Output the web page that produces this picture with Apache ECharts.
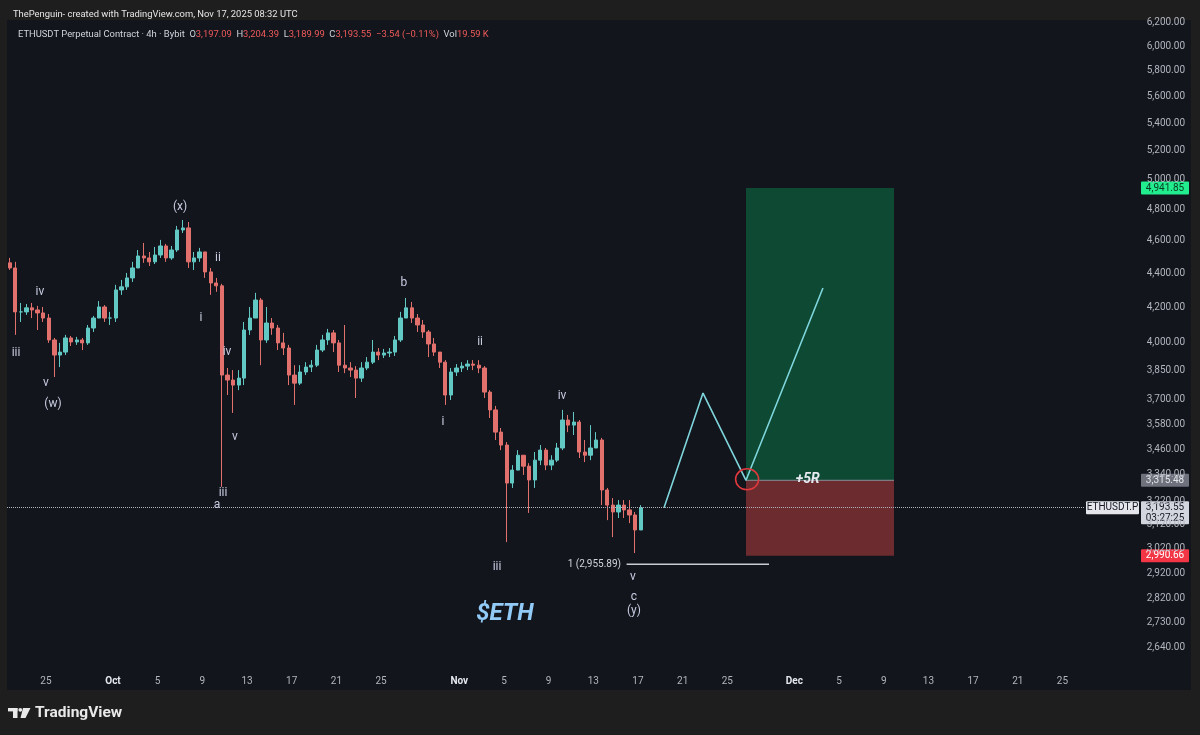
<!DOCTYPE html>
<html>
<head>
<meta charset="utf-8">
<title>ETHUSDT Perpetual Contract 4h</title>
<script src="https://cdn.jsdelivr.net/npm/echarts@6/dist/echarts.min.js"></script>
<style>
  html, body { margin: 0; padding: 0; background: #1e1e1e; }
  #chart { width: 1200px; height: 735px; }
</style>
</head>
<body>
<div id="chart"></div>
<script>
// candles, one per 12h, from Sep 21 12:00 (day 0 = Oct 1)
const firstDay = -9.5
const stepDay = 0.5
const firstOpen = 4462
const closes = [
  4431, 4173, 4173, 4196, 4184, 4167, 4138, 4016, 3934, 3950,
  4027, 4005, 4016, 4000, 4082, 4138, 4201, 4138, 4138, 4300,
  4318, 4371, 4431, 4504, 4492, 4468, 4510, 4566, 4492, 4541,
  4667, 4680, 4468, 4492, 4529, 4407, 4341, 4324, 3828, 3802,
  3776, 3812, 4071, 4138, 4241, 4016, 4110, 4082, 4000, 3972,
  3828, 3786, 3844, 3870, 3880, 3961, 4016, 4055, 4000, 3880,
  3865, 3854, 3812, 3865, 3896, 3950, 3934, 3945, 3950, 4016,
  4138, 4196, 4138, 4099, 4060, 3994, 3950, 3896, 3725, 3844,
  3865, 3875, 3886, 3880, 3865, 3740, 3650, 3541, 3479, 3303,
  3362, 3431, 3380, 3317, 3408, 3455, 3385, 3408, 3465, 3600,
  3575, 3590, 3446, 3431, 3465, 3503, 3272, 3205, 3175, 3205,
  3184, 3162, 3098, 3193.55
]
const highs = [
  4492, 4468, 4224, 4218, 4224, 4207, 4201, 4161, 4027, 4000,
  4044, 4038, 4033, 4027, 4099, 4150, 4235, 4212, 4173, 4330,
  4359, 4401, 4468, 4541, 4585, 4529, 4560, 4604, 4579, 4566,
  4693, 4731, 4718, 4529, 4554, 4529, 4431, 4371, 4336, 3865,
  3854, 3854, 4116, 4201, 4283, 4253, 4201, 4138, 4099, 4055,
  3989, 3880, 3880, 3896, 3907, 3989, 4044, 4077, 4071, 4016,
  4099, 3896, 3875, 3896, 3923, 4016, 3972, 3967, 3972, 4038,
  4173, 4253, 4230, 4161, 4127, 4071, 4027, 3950, 3907, 3865,
  3886, 3896, 3907, 3907, 3907, 3875, 3750, 3670, 3561, 3493,
  3385, 3455, 3431, 3394, 3446, 3479, 3465, 3431, 3489, 3650,
  3625, 3640, 3600, 3503, 3575, 3541, 3513, 3281, 3236, 3227,
  3227, 3227, 3175, 3205
]
const lows = [
  4419, 4044, 4116, 4156, 4138, 4071, 4116, 4000, 3818, 3870,
  3934, 3983, 3989, 3961, 3989, 4060, 4138, 4116, 4099, 4116,
  4271, 4300, 4347, 4443, 4462, 4443, 4455, 4492, 4468, 4480,
  4529, 4648, 4431, 4419, 4468, 4371, 4271, 4289, 3286, 3725,
  3635, 3750, 3776, 4044, 4138, 3880, 4000, 4044, 3961, 3934,
  3776, 3675, 3776, 3828, 3844, 3870, 3950, 3989, 3950, 3844,
  3838, 3818, 3710, 3792, 3854, 3886, 3907, 3918, 3923, 3929,
  4005, 4138, 4110, 4060, 4027, 3923, 3929, 3865, 3675, 3700,
  3823, 3844, 3854, 3854, 3838, 3710, 3610, 3503, 3455, 3047,
  3281, 3362, 3340, 3171, 3281, 3385, 3362, 3362, 3399, 3455,
  3541, 3527, 3418, 3399, 3408, 3465, 3205, 3140, 3068, 3149,
  3149, 3127, 3002, 3098
]
const lastPrice = 3193.55

// axis ticks
const yTicks = [6200, 6000, 5800, 5600, 5400, 5200, 5000, 4800, 4600, 4400, 4200, 4000,
  3850, 3700, 3580, 3460, 3340, 3220, 3120, 3020, 2920, 2820, 2730, 2640]
const xTickDays = [-6, 0, 4, 8, 12, 16, 20, 24, 31, 35, 39, 43, 47, 51, 55, 61, 65, 69, 73, 77, 81, 85]
const xTickText = ['25', 'Oct', '5', '9', '13', '17', '21', '25', 'Nov', '5', '9', '13', '17', '21', '25',
  'Dec', '5', '9', '13', '17', '21', '25']

// elliott wave labels
const waveText = ['iii', 'iv', 'v', '(w)', '(x)', 'ii', 'i', 'iv', 'v', 'iii', 'a',
  'b', 'ii', 'i', 'iii', 'iv', 'v', 'c', '(y)']
const waveDay = [-8.68, -6.54, -6.0, -5.37, 6.0, 9.4, 7.88, 10.21, 10.92, 9.85, 9.31,
  26.05, 32.86, 29.54, 34.38, 40.2, 46.55, 46.64, 46.64]
const wavePrice = [3944, 4287, 3786, 3679, 4816, 4491, 4138, 3950, 3517, 3258, 3205,
  4341, 4004, 3590, 2945, 3720, 2905, 2827, 2773]

// projected path and long position
const projDays = [49.33, 52.82, 56.67, 63.56]
const projPrices = [3193.55, 3735, 3315.48, 4311]
const posStart = 56.67
const posEnd = 69.92
const entry = 3315.48
const target = 4941.85
const stop = 2990.66
const fibPrice = 2955.89
const fibStart = 45.98
const fibEnd = 58.73

const FONT = 'Roboto, sans-serif'
const UP = '#62c8c3'
const DOWN = '#e2716d'
const L = Math.log

const candles = closes.map((c, i) => {
  const o = i ? closes[i - 1] : firstOpen
  return [firstDay + stepDay * i + stepDay / 2, L(o), L(c), L(lows[i]), L(highs[i])]
})

const chart = echarts.init(document.getElementById('chart'))

chart.setOption({
  animation: false,
  backgroundColor: '#1e1e1e',
  title: [{
    text: 'ThePenguin- created with TradingView.com, Nov 17, 2025 08:32 UTC',
    left: 8, top: 5,
    textStyle: { color: '#e6e6e6', fontSize: 9.4, fontWeight: 'normal', fontFamily: FONT }
  }, {
    text: '{w|ETHUSDT Perpetual Contract · 4h · Bybit}  {w|O}{r|3,197.09}  {w|H}{r|3,204.39}  ' +
      '{w|L}{r|3,189.99}  {w|C}{r|3,193.55}  {r|−3.54 (−0.11%)}  {w|Vol}{r|19.59 K}',
    left: 13, top: 25,
    textStyle: {
      fontSize: 9.4, fontWeight: 'normal', fontFamily: FONT,
      rich: {
        w: { color: '#d1d4dc', fontSize: 9.4, fontFamily: FONT },
        r: { color: '#ef5a5a', fontSize: 9.4, fontFamily: FONT }
      }
    }
  }],
  grid: { left: 7, right: 116, top: 20, bottom: 67 },
  xAxis: {
    type: 'value',
    min: -9.49, max: 86.93,
    axisLine: { show: false },
    axisTick: { show: false },
    splitLine: { show: false },
    axisLabel: {
      customValues: xTickDays,
      margin: 8,
      formatter: v => {
        const t = xTickText[xTickDays.indexOf(v)] || ''
        return /[A-Z]/.test(t) ? '{m|' + t + '}' : t
      },
      color: '#b2b5be', fontSize: 10, fontFamily: FONT,
      rich: { m: { color: '#e6e8ee', fontWeight: 'bold', fontSize: 10, fontFamily: FONT } }
    }
  },
  yAxis: {
    type: 'value',
    position: 'right',
    min: L(2565.7), max: L(6217),
    axisLine: { show: false },
    axisTick: { show: false },
    splitLine: { show: false },
    axisLabel: {
      customValues: yTicks.map(L),
      align: 'right',
      margin: 101,
      color: '#b2b5be', fontSize: 10, fontFamily: FONT,
      formatter: v => Math.round(Math.exp(v)).toLocaleString('en-US', { minimumFractionDigits: 2 })
    }
  },
  series: [{
    // long position box
    type: 'line',
    z: 1,
    silent: true,
    symbol: 'none',
    data: [[posStart, L(entry)], [posEnd, L(entry)]],
    lineStyle: { color: '#8a8f98', width: 1 },
    markArea: {
      silent: true,
      data: [
        [{ xAxis: posStart, yAxis: L(entry), itemStyle: { color: '#0e4933', opacity: 1 } }, { xAxis: posEnd, yAxis: L(target) }],
        [{ xAxis: posStart, yAxis: L(stop), itemStyle: { color: '#6c2b2f', opacity: 1 } }, { xAxis: posEnd, yAxis: L(entry) }]
      ]
    }
  }, {
    type: 'candlestick',
    z: 2,
    data: candles,
    encode: { x: 0, y: [1, 2, 3, 4] },
    barWidth: 3.8,
    itemStyle: { color: UP, color0: DOWN, borderColor: UP, borderColor0: DOWN, borderWidth: 1 },
    markLine: {
      silent: true,
      symbol: 'none',
      label: { show: false },
      lineStyle: { type: 'dotted', color: '#aeb3bd', width: 1 },
      data: [{ yAxis: L(lastPrice) }]
    }
  }, {
    type: 'line',
    z: 3,
    silent: true,
    symbol: 'none',
    data: projDays.map((d, i) => [d, L(projPrices[i])]),
    lineStyle: { color: '#7fd5dc', width: 1.6 }
  }, {
    type: 'line',
    z: 3,
    silent: true,
    symbol: 'none',
    data: [[fibStart, L(fibPrice)], [fibEnd, L(fibPrice)]],
    lineStyle: { color: '#c9ccd3', width: 1.5 }
  }, {
    type: 'scatter',
    z: 5,
    silent: true,
    symbolSize: 1,
    itemStyle: { color: 'rgba(0,0,0,0)', opacity: 1 },
    label: {
      show: true, position: 'inside', formatter: p => p.name,
      color: '#c8cce0', fontSize: 12, fontFamily: FONT, textBorderWidth: 0
    },
    data: waveText.map((t, i) => ({ name: t, value: [waveDay[i], L(wavePrice[i])] })).concat([
      {
        name: '$ETH', value: [35.09, L(2762)],
        label: { fontSize: 24, fontWeight: 'bold', fontStyle: 'italic', color: '#92cbf7' }
      },
      {
        name: '+5R', value: [62.2, L(3319)],
        label: { fontSize: 14, fontWeight: 'bold', fontStyle: 'italic', color: '#e6e9f0' }
      },
      {
        name: '1 (' + fibPrice.toLocaleString('en-US') + ')', value: [fibStart, L(fibPrice)],
        label: { position: 'left', distance: 5, fontSize: 10, color: '#d1d4dc' }
      }
    ])
  }, {
    // red circle at the entry
    type: 'scatter',
    z: 6,
    silent: true,
    symbol: 'circle',
    symbolSize: [23, 21],
    itemStyle: { color: 'rgba(0,0,0,0)', borderColor: '#e0393e', borderWidth: 1.5, opacity: 1 },
    data: [[56.77, L(3320)]]
  }]
})

// price tags on the right scale
const py = p => chart.convertToPixel({ yAxisIndex: 0 }, L(p))
function tag(y, h, lines, fill, color, x, w) {
  const kids = [{ type: 'rect', shape: { x: x, y: y - 6.5, width: w, height: h, r: 1 }, style: { fill: fill } }]
  lines.forEach((t, i) => kids.push({
    type: 'text', x: x + w / 2, y: y + i * 11,
    style: { text: t, fill: color, font: '10px ' + FONT, align: 'center', verticalAlign: 'middle' }
  }))
  return { type: 'group', z: 100, children: kids }
}

chart.setOption({
  graphic: [
    { type: 'rect', z: -10, shape: { x: 7, y: 20, width: 1184, height: 670 }, style: { fill: '#12151c' } },
    tag(py(target), 13, ['4,941.85'], '#21ec8e', '#0b3a22', 1141, 48),
    tag(py(entry), 13, ['3,315.48'], '#6f727c', '#e3e5ea', 1141, 48),
    tag(py(lastPrice), 13, ['ETHUSDT.P'], '#e4e6ec', '#131722', 1086, 53),
    tag(py(lastPrice), 23, ['3,193.55', '03:27:25'], '#d3d6de', '#131722', 1141, 48),
    tag(py(stop), 13, ['2,990.66'], '#f23645', '#ffffff', 1141, 48),
    // TradingView logo
    {
      type: 'group', z: 100, children: [
        { type: 'rect', shape: { x: 8, y: 708, width: 9.5, height: 3.4 }, style: { fill: '#e9e9e9' } },
        { type: 'rect', shape: { x: 13, y: 708, width: 4.5, height: 10 }, style: { fill: '#e9e9e9' } },
        { type: 'circle', shape: { cx: 20.3, cy: 709.8, r: 1.9 }, style: { fill: '#e9e9e9' } },
        { type: 'polygon', shape: { points: [[23, 708], [30.5, 708], [25.5, 718], [20.5, 718]] }, style: { fill: '#e9e9e9' } },
        {
          type: 'text', x: 35, y: 713,
          style: { text: 'TradingView', fill: '#e9e9e9', font: 'bold 15.5px ' + FONT, verticalAlign: 'middle' }
        }
      ]
    }
  ]
})
</script>
</body>
</html>
